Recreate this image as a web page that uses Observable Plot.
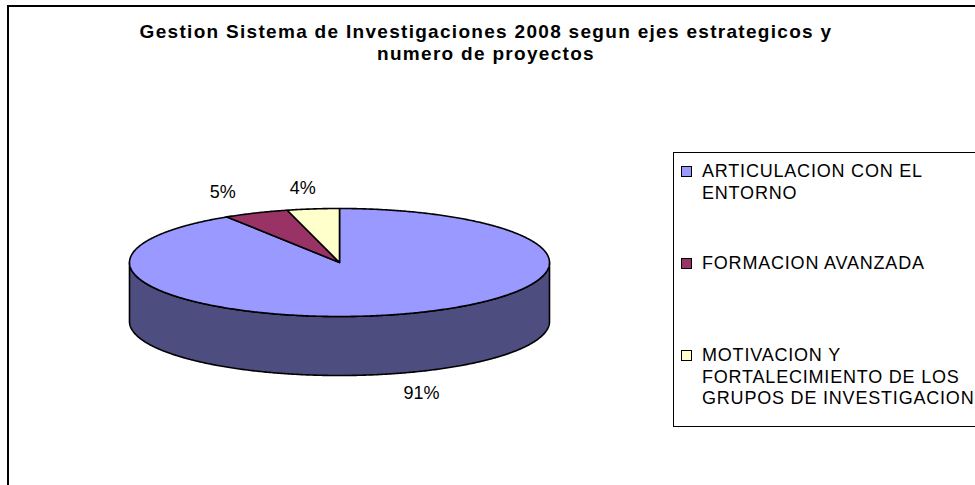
<!DOCTYPE html>
<html>
<head>
<meta charset="utf-8">
<script src="https://cdn.jsdelivr.net/npm/d3@7"></script>
<script src="https://cdn.jsdelivr.net/npm/@observablehq/plot@0.6"></script>
<style>
  html, body { margin: 0; padding: 0; background: #fff; }
  #wrap { position: relative; width: 975px; height: 485px; overflow: hidden; font-family: Arial, "Liberation Sans", sans-serif; }
  #wrap svg { position: absolute; left: 0; top: 0; }
  #frame { position: absolute; left: 7px; top: 5px; width: 1000px; height: 500px; border: 2px solid #000; }
  #title { position: absolute; left: 126px; top: 21px; width: 720px; text-align: center; font-weight: bold; font-size: 19px; line-height: 22px; letter-spacing: 1.3px; color: #000; }
  #legend { position: absolute; left: 673px; top: 152px; width: 330px; height: 275px; border: 1px solid #000; box-sizing: border-box; padding-top: 8px; }
  .item { position: relative; height: 92px; padding-left: 28px; width: 285px; font-size: 18px; line-height: 21.5px; letter-spacing: 0.8px; color: #000; }
  .sw { position: absolute; left: 7px; top: 5px; width: 9px; height: 9px; border: 1px solid #000; }
</style>
</head>
<body>
<div id="wrap"></div>
<script>
const categories = ["ARTICULACION CON EL ENTORNO", "FORMACION AVANZADA", "MOTIVACION Y FORTALECIMIENTO DE LOS GRUPOS DE INVESTIGACION"];
const values = [91, 5, 4];
const colors = ["#9999ff", "#993366", "#ffffcc"];
const sideColors = ["#4d4d80", "#4d1a33", "#808066"];
const title = "Gestion Sistema de Investigaciones 2008 segun ejes estrategicos y numero de proyectos";

const W = 975, H = 485;
const cx = 339, cy = 262, rx = 210, ry = 54, depth = 59;
const total = d3.sum(values);
const arcs = d3.pie().sort(null).value(d => d)(values);
const pt = (a, dy = 0) => [cx + rx * Math.sin(a), cy - ry * Math.cos(a) + dy];
const steps = (s, e) => Math.max(2, Math.ceil((e - s) / (Math.PI / 360)));

// top faces
const tops = arcs.map(a => {
  const pts = [{x: cx, y: cy}];
  const n = steps(a.startAngle, a.endAngle);
  for (let k = 0; k <= n; k++) {
    const t = a.startAngle + (a.endAngle - a.startAngle) * k / n;
    const [x, y] = pt(t);
    pts.push({x, y});
  }
  return pts;
});

// visible side faces (front half)
const sides = arcs.map(a => {
  const s = Math.max(a.startAngle, Math.PI / 2), e = Math.min(a.endAngle, 3 * Math.PI / 2);
  if (e <= s) return null;
  const n = steps(s, e);
  const pts = [];
  for (let k = 0; k <= n; k++) { const t = s + (e - s) * k / n; const [x, y] = pt(t); pts.push({x, y}); }
  for (let k = n; k >= 0; k--) { const t = s + (e - s) * k / n; const [x, y] = pt(t, depth); pts.push({x, y}); }
  return pts;
});

// labels (percent of total), placed outside the mid-angle of each slice
const labels = arcs.map((a, i) => {
  const m = (a.startAngle + a.endAngle) / 2;
  const sn = Math.sin(m), cs = Math.cos(m);
  const front = cs < 0;
  return {
    x: cx + 1.4 * rx * sn,
    y: cy - ry * cs + (front ? depth + 20 : -21),
    text: Math.round(values[i] / total * 100) + "%"
  };
});

const marks = [];
sides.forEach((p, i) => { if (p) marks.push(Plot.line(p, {x: "x", y: "y", fill: sideColors[i], stroke: "#000", strokeWidth: 1.6, curve: "linear-closed"})); });
tops.forEach((p, i) => marks.push(Plot.line(p, {x: "x", y: "y", fill: colors[i], stroke: "#000", strokeWidth: 1.6, curve: "linear-closed"})));
marks.push(Plot.text(labels, {x: "x", y: "y", text: "text", textAnchor: "middle", fontSize: 18, fill: "#000"}));

const chart = Plot.plot({
  width: W, height: H,
  margin: 0,
  x: {domain: [0, W], range: [0, W], axis: null},
  y: {domain: [0, H], range: [0, H], axis: null},
  style: {fontFamily: "Arial, 'Liberation Sans', sans-serif", background: "transparent"},
  marks
});

const wrap = document.getElementById("wrap");
wrap.appendChild(chart);

const frame = document.createElement("div");
frame.id = "frame";
wrap.appendChild(frame);

const t = document.createElement("div");
t.id = "title";
t.textContent = title;
wrap.appendChild(t);

const lg = document.createElement("div");
lg.id = "legend";
categories.forEach((c, i) => {
  const it = document.createElement("div");
  it.className = "item";
  const sw = document.createElement("span");
  sw.className = "sw";
  sw.style.background = colors[i];
  it.appendChild(sw);
  it.appendChild(document.createTextNode(c));
  lg.appendChild(it);
});
wrap.appendChild(lg);
</script>
</body>
</html>
